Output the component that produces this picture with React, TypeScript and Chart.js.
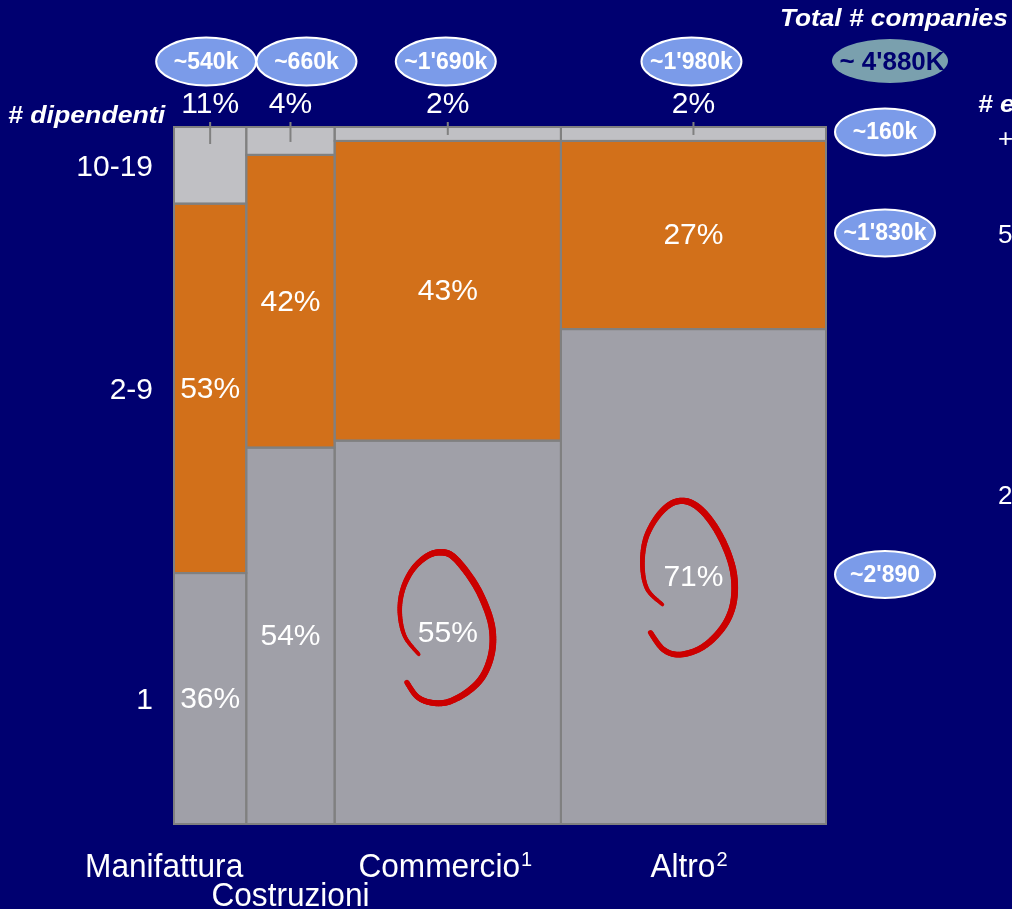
import React, { useEffect, useRef } from 'react';
import { Chart, registerables } from 'chart.js';

Chart.register(...registerables);

// ---------- data ----------
const categories = ['Manifattura', 'Costruzioni', 'Commercio', 'Altro'];
const categorySup = ['', '', '1', '2'];
const companies = [540, 660, 1690, 1980]; // thousand companies per sector
const companyLabels = ['~540k', '~660k', "~1'690k", "~1'980k"];
const share1 = [36, 54, 55, 71]; // % companies with 1 employee
const share2to9 = [53, 42, 43, 27]; // % companies with 2-9 employees
const share10to19 = [11, 4, 2, 2]; // % companies with 10-19 employees
const sizeLabels = ['1', '2-9', '10-19'];
const sizeTotals = ["~2'890", "~1'830k", '~160k'];
const grandTotal = "~ 4'880K";
const circledSectors = ['Commercio', 'Altro'];
const rightCutLabels = ['2', '5', '+'];

const series = [share1, share2to9, share10to19];

// ---------- style / layout ----------
const W = 1012;
const H = 909;
const BG = '#000070';
const FONT = '"Liberation Sans", Arial, Helvetica, sans-serif';
const SEG_COLORS = ['#A0A0A8', '#D2701A', '#C0C0C4'];
const BORDER = '#808080';
const ELLIPSE_FILL = '#7B9BE9';
const TOTAL_FILL = '#7AA0AE';
const LABEL_DX = [-46, 0, -3, -5];
const LABEL_ROW = [0, 1, 0, 0];
const TOP_ELLIPSE_DX = [-4, 16, -2, -2];

// hand-drawn loop shape (relative to the circled label centre)
const LOOPS: Record<string, number[][]> = {
  Commercio: [
    [-29, 22], [-43, 4], [-48, -20], [-45, -43], [-35, -63], [-21, -76], [-8, -80], [5, -76],
    [22, -56], [35, -33], [44, -6], [44, 20], [35, 44], [19, 60], [-1, 70], [-18, 70], [-31, 64], [-41, 50],
  ],
  Altro: [
    [-31, 28], [-46, 13], [-51, -10], [-48, -37], [-36, -60], [-20, -74], [-3, -74], [14, -60],
    [30, -34], [40, -4], [40, 26], [30, 50], [10, 70], [-13, 78], [-30, 73], [-43, 56],
  ],
};

function ellipse(ctx: CanvasRenderingContext2D, cx: number, cy: number, rx: number, ry: number, fill: string, stroke?: string) {
  ctx.beginPath();
  ctx.ellipse(cx, cy, rx, ry, 0, 0, Math.PI * 2);
  ctx.fillStyle = fill;
  ctx.fill();
  if (stroke) {
    ctx.lineWidth = 2;
    ctx.strokeStyle = stroke;
    ctx.stroke();
  }
}

function catmull(pts: number[][], steps: number) {
  const out: number[][] = [];
  for (let i = 0; i < pts.length - 1; i++) {
    const p0 = pts[Math.max(0, i - 1)];
    const p1 = pts[i];
    const p2 = pts[i + 1];
    const p3 = pts[Math.min(pts.length - 1, i + 2)];
    for (let s = 0; s < steps; s++) {
      const t = s / steps;
      const t2 = t * t;
      const t3 = t2 * t;
      const f = (a: number, b: number, c: number, d: number) =>
        0.5 * (2 * b + (-a + c) * t + (2 * a - 5 * b + 4 * c - d) * t2 + (-a + 3 * b - 3 * c + d) * t3);
      out.push([f(p0[0], p1[0], p2[0], p3[0]), f(p0[1], p1[1], p2[1], p3[1])]);
    }
  }
  out.push(pts[pts.length - 1]);
  return out;
}

function drawLoop(ctx: CanvasRenderingContext2D, cx: number, cy: number, rel: number[][]) {
  const pts = catmull(rel.map(([dx, dy]) => [cx + dx, cy + dy]), 10);
  ctx.strokeStyle = '#CC0000';
  ctx.lineCap = 'round';
  ctx.lineJoin = 'round';
  for (let i = 0; i < pts.length - 1; i++) {
    const t = i / (pts.length - 1);
    ctx.lineWidth = 3.5 + 2.5 * Math.sin(Math.PI * t) + 1.5 * t;
    ctx.beginPath();
    ctx.moveTo(pts[i][0], pts[i][1]);
    ctx.lineTo(pts[i + 1][0], pts[i + 1][1]);
    ctx.stroke();
  }
}

function wideText(ctx: CanvasRenderingContext2D, text: string, x: number, y: number, sx: number) {
  ctx.save();
  ctx.translate(x, y);
  ctx.scale(sx, 1);
  ctx.fillText(text, 0, 0);
  ctx.restore();
}

const mekkoPlugin = {
  id: 'mekko',
  afterDraw(chart: any) {
    const { ctx, chartArea, scales } = chart;
    const xs = scales.x;
    const ys = scales.y;
    ctx.save();

    let acc = 0;
    const cols = categories.map((name, i) => {
      const x0 = xs.getPixelForValue(acc);
      acc += companies[i];
      const x1 = xs.getPixelForValue(acc);
      let base = 0;
      const segs = series.map((s, k) => {
        const v = s[i];
        const yb = ys.getPixelForValue(base);
        const yt = ys.getPixelForValue(base + v);
        base += v;
        return { v, yb, yt, mid: (yb + yt) / 2, k };
      });
      return { name, x0, x1, cx: (x0 + x1) / 2, segs };
    });

    // rectangles
    cols.forEach((c) => {
      c.segs.forEach((s) => {
        ctx.fillStyle = SEG_COLORS[s.k];
        ctx.fillRect(c.x0, s.yt, c.x1 - c.x0, s.yb - s.yt);
      });
    });
    ctx.strokeStyle = BORDER;
    ctx.lineWidth = 2;
    cols.forEach((c) => {
      c.segs.forEach((s) => {
        ctx.strokeRect(c.x0, s.yt, c.x1 - c.x0, s.yb - s.yt);
      });
    });

    // tick lines into top segments
    cols.forEach((c) => {
      const top = c.segs[2];
      ctx.beginPath();
      ctx.moveTo(c.cx, chartArea.top - 5);
      ctx.lineTo(c.cx, Math.min(top.yt + 17, top.mid + 1));
      ctx.stroke();
    });

    // red loops (under labels)
    cols.forEach((c) => {
      if (circledSectors.includes(c.name)) drawLoop(ctx, c.cx, c.segs[0].mid, LOOPS[c.name]);
    });

    // labels in segments
    ctx.fillStyle = '#FFFFFF';
    ctx.font = `30px ${FONT}`;
    ctx.textAlign = 'center';
    ctx.textBaseline = 'middle';
    cols.forEach((c) => {
      c.segs.forEach((s) => {
        if (s.k < 2) ctx.fillText(`${s.v}%`, c.cx, s.mid + 1);
        else ctx.fillText(`${s.v}%`, c.cx, chartArea.top - 22);
      });
    });

    // y category labels
    ctx.textAlign = 'right';
    cols[0].segs.forEach((s) => {
      ctx.fillText(sizeLabels[s.k], chartArea.left - 21, s.mid + 2);
    });

    // top company ellipses
    ctx.textAlign = 'center';
    ctx.font = `bold 23px ${FONT}`;
    cols.forEach((c, i) => {
      const ex = c.cx + TOP_ELLIPSE_DX[i];
      ellipse(ctx, ex, 61.5, 50, 24, ELLIPSE_FILL, '#FFFFFF');
      ctx.fillStyle = '#FFFFFF';
      ctx.fillText(companyLabels[i], ex, 63);
    });

    // right total ellipses aligned to last column segments
    const last = cols[cols.length - 1];
    last.segs.forEach((s) => {
      const ex = chartArea.right + 59;
      ellipse(ctx, ex, s.mid - 2, 50, 23.5, ELLIPSE_FILL, '#FFFFFF');
      ctx.fillStyle = '#FFFFFF';
      ctx.fillText(sizeTotals[s.k], ex, s.mid - 1);
    });

    // grand total
    ellipse(ctx, chartArea.right + 64, 61, 58, 22, TOTAL_FILL);
    ctx.fillStyle = '#000070';
    ctx.font = `bold 26px ${FONT}`;
    ctx.fillText(grandTotal, chartArea.right + 66, 63);

    // titles
    ctx.fillStyle = '#FFFFFF';
    ctx.textAlign = 'left';
    ctx.textBaseline = 'alphabetic';
    ctx.font = `italic bold 23px ${FONT}`;
    wideText(ctx, 'Total # companies', 780, 26, 1.14);
    wideText(ctx, '# dipendenti', 8, 123, 1.16);
    wideText(ctx, '# employees', 978, 112, 1.15);

    // cut-off labels at right edge
    ctx.font = `26px ${FONT}`;
    ctx.textBaseline = 'middle';
    const cutY = [497, 236, 140];
    rightCutLabels.forEach((t, k) => ctx.fillText(t, 998, cutY[k]));

    // bottom category labels
    ctx.textBaseline = 'alphabetic';
    cols.forEach((c, i) => {
      const main = categories[i];
      const sup = categorySup[i];
      const sx = 0.93;
      ctx.font = `34px ${FONT}`;
      const wMain = ctx.measureText(main).width * sx;
      ctx.font = `20px ${FONT}`;
      const wSup = sup ? ctx.measureText(sup).width : 0;
      const total = wMain + wSup;
      const cx = c.cx + LABEL_DX[i];
      const left = cx - total / 2;
      const baseY = chartArea.bottom + 53 + LABEL_ROW[i] * 29;
      ctx.font = `34px ${FONT}`;
      wideText(ctx, main, left, baseY, sx);
      if (sup) {
        ctx.font = `20px ${FONT}`;
        ctx.fillText(sup, left + wMain + 1, baseY - 11);
      }
    });

    ctx.restore();
  },
};

export default function App() {
  const ref = useRef<HTMLCanvasElement | null>(null);

  useEffect(() => {
    document.body.style.margin = '0';
    document.body.style.background = BG;
    const canvas = ref.current;
    if (!canvas) return;
    const total = companies.reduce((a, b) => a + b, 0);
    const chart = new Chart(canvas, {
      type: 'scatter',
      data: { datasets: [] },
      options: {
        responsive: false,
        animation: false,
        devicePixelRatio: 1,
        layout: { padding: { left: 174, right: W - 826, top: 127, bottom: H - 824 } },
        scales: {
          x: { type: 'linear', min: 0, max: total, display: false },
          y: { type: 'linear', min: 0, max: 100, display: false },
        },
        plugins: { legend: { display: false }, tooltip: { enabled: false }, title: { display: false } },
      },
      plugins: [mekkoPlugin],
    });
    return () => chart.destroy();
  }, []);

  return (
    <div style={{ position: 'fixed', left: 0, top: 0, width: W, height: H, background: BG }}>
      <canvas ref={ref} width={W} height={H} style={{ display: 'block', width: W, height: H }} />
    </div>
  );
}
